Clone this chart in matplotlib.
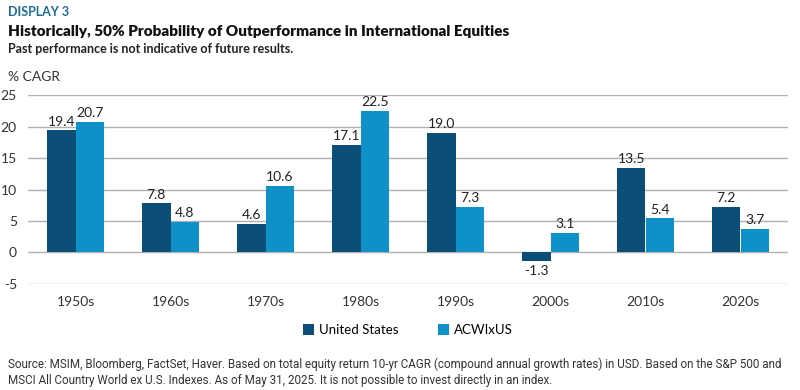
import numpy as np
import matplotlib.pyplot as plt

plt.rcParams['font.family'] = ['Lato', 'DejaVu Sans']
plt.rcParams['axes.unicode_minus'] = False

# 数据
decades = ['1950s', '1960s', '1970s', '1980s', '1990s', '2000s', '2010s', '2020s']
us = [19.4, 7.8, 4.6, 17.1, 19.0, -1.3, 13.5, 7.2]
acwi = [20.7, 4.8, 10.6, 22.5, 7.3, 3.1, 5.4, 3.7]
yticks = [-5, 0, 5, 10, 15, 20, 25]

dark = '#0b4f79'
light = '#0e90c8'

fig = plt.figure(figsize=(8, 3.9), dpi=100)
ax = fig.add_axes([0.035, 0.272, 0.95, 0.484])

x = np.arange(len(decades))
w = 0.3
b1 = ax.bar(x - w / 2, us, w, color=dark, label='United States', zorder=3)
b2 = ax.bar(x + w / 2, acwi, w, color=light, label='ACWIxUS', zorder=3)

# 数值标签
for bars, vals in [(b1, us), (b2, acwi)]:
    for r, v in zip(bars, vals):
        cx = r.get_x() + r.get_width() / 2
        if v >= 0:
            ax.annotate('%.1f' % v, (cx, v), xytext=(0, 2), textcoords='offset points',
                        ha='center', va='bottom', fontsize=10, color='#222222')
        else:
            ax.annotate('%.1f' % v, (cx, v), xytext=(0, -3), textcoords='offset points',
                        ha='center', va='top', fontsize=10, color='#222222')

ax.set_xlim(-0.5, len(decades) - 0.5)
ax.set_ylim(-5, 25)
ax.set_yticks(yticks)
ax.set_xticks(x)
ax.set_xticklabels(decades)
ax.grid(axis='y', color='#b0b0b0', linewidth=1, zorder=0)
for s in ax.spines.values():
    s.set_visible(False)
ax.tick_params(axis='both', length=0, labelsize=10, colors='#333333')
ax.tick_params(axis='y', pad=8)
ax.tick_params(axis='x', pad=9)

ax.legend(loc='upper center', bbox_to_anchor=(0.5, -0.15), ncol=2, frameon=False,
          fontsize=9.5, handlelength=0.8, handleheight=0.8, columnspacing=3, handletextpad=0.4)

# 标题
fig.text(0.01, 0.97, 'DISPLAY 3', fontsize=9, fontweight='bold', color='#1b6a98', va='center')
fig.text(0.01, 0.919, 'Historically, 50% Probability of Outperformance in International Equities',
         fontsize=11, fontweight='heavy', color='#111111', va='center')
fig.text(0.01, 0.875, 'Past performance is not indicative of future results.',
         fontsize=9, fontweight='bold', color='#222222', va='center')
fig.text(0.01, 0.802, '% CAGR', fontsize=10, color='#333333', va='center')

note = ('Source: MSIM, Bloomberg, FactSet, Haver. Based on total equity return 10-yr CAGR (compound annual growth rates) in USD. Based on the S&P 500 and\n'
        'MSCI All Country World ex U.S. Indexes. As of May 31, 2025. It is not possible to invest directly in an index.')
fig.text(0.01, 0.045, note, fontsize=8.4, family=['Roboto', 'DejaVu Sans'],
         color='#333333', va='center', linespacing=1.3)

plt.savefig('out.png', dpi=100)
